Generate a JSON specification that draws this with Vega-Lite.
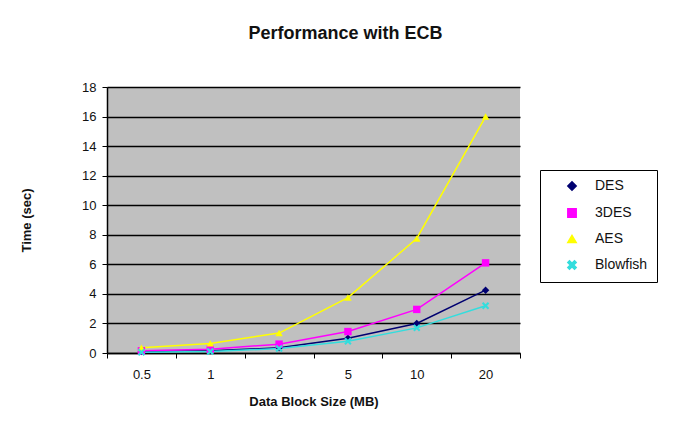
{
  "$schema": "https://vega.github.io/schema/vega-lite/v6.json",
  "autosize": {"type": "none"},
  "width": 413,
  "height": 266,
  "padding": {"left": 107, "top": 87, "right": 155, "bottom": 81},
  "background": "white",
  "title": {
    "text": "Performance with ECB",
    "font": "Liberation Sans",
    "fontSize": 18,
    "fontWeight": "bold",
    "color": "#111111",
    "anchor": "middle",
    "dx": 32,
    "offset": 38
  },
  "config": {
    "view": {"fill": "#c0c0c0", "stroke": null},
    "font": "Liberation Sans"
  },
  "data": {
    "values": [
      {"size": "0.5", "alg": "DES", "time": 0.1},
      {"size": "1", "alg": "DES", "time": 0.15},
      {"size": "2", "alg": "DES", "time": 0.35},
      {"size": "5", "alg": "DES", "time": 1.0},
      {"size": "10", "alg": "DES", "time": 2.0},
      {"size": "20", "alg": "DES", "time": 4.25},
      {"size": "0.5", "alg": "3DES", "time": 0.15},
      {"size": "1", "alg": "3DES", "time": 0.25},
      {"size": "2", "alg": "3DES", "time": 0.6},
      {"size": "5", "alg": "3DES", "time": 1.45},
      {"size": "10", "alg": "3DES", "time": 2.95},
      {"size": "20", "alg": "3DES", "time": 6.1},
      {"size": "0.5", "alg": "AES", "time": 0.35},
      {"size": "1", "alg": "AES", "time": 0.65},
      {"size": "2", "alg": "AES", "time": 1.35},
      {"size": "5", "alg": "AES", "time": 3.75},
      {"size": "10", "alg": "AES", "time": 7.75},
      {"size": "20", "alg": "AES", "time": 16.0},
      {"size": "0.5", "alg": "Blowfish", "time": 0.05},
      {"size": "1", "alg": "Blowfish", "time": 0.1},
      {"size": "2", "alg": "Blowfish", "time": 0.3},
      {"size": "5", "alg": "Blowfish", "time": 0.8},
      {"size": "10", "alg": "Blowfish", "time": 1.7},
      {"size": "20", "alg": "Blowfish", "time": 3.2}
    ]
  },
  "encoding": {
    "x": {
      "field": "size",
      "type": "ordinal",
      "sort": ["0.5", "1", "2", "5", "10", "20"],
      "bandPosition": 0.5,
      "scale": {"type": "band", "paddingInner": 0, "paddingOuter": 0},
      "axis": {
        "title": "Data Block Size (MB)",
        "titleFont": "Liberation Sans",
        "titleFontSize": 13,
        "titleFontWeight": "bold",
        "titleColor": "#111111",
        "titlePadding": 14,
        "labelAngle": 0,
        "labelFontSize": 13,
        "labelColor": "#111111",
        "labelPadding": 10,
        "tickBand": "extent",
        "tickColor": "black",
        "tickSize": 5,
        "domainColor": "black",
        "domainWidth": 1.5,
        "grid": false
      }
    },
    "y": {
      "field": "time",
      "type": "quantitative",
      "scale": {"domain": [0, 18], "nice": false},
      "axis": {
        "title": "Time (sec)",
        "titleFont": "Liberation Sans",
        "titleFontSize": 13,
        "titleFontWeight": "bold",
        "titleColor": "#111111",
        "titlePadding": 48,
        "values": [0, 2, 4, 6, 8, 10, 12, 14, 16, 18],
        "labelFontSize": 13,
        "labelColor": "#111111",
        "labelPadding": 6,
        "tickColor": "black",
        "tickSize": 5,
        "domainColor": "black",
        "domainWidth": 1.5,
        "grid": true,
        "gridColor": "black",
        "gridWidth": 1.5,
        "gridOpacity": 1
      }
    },
    "color": {
      "field": "alg",
      "type": "nominal",
      "scale": {
        "domain": ["DES", "3DES", "AES", "Blowfish"],
        "range": ["#000070", "#ff00ff", "#ffff00", "#33dddd"]
      },
      "legend": {
        "title": null,
        "orient": "none",
        "legendX": 433,
        "legendY": 83,
        "strokeColor": "black",
        "fillColor": "white",
        "padding": 9,
        "labelFontSize": 14,
        "labelColor": "#111111",
        "rowPadding": 11,
        "symbolSize": 70,
        "symbolOffset": 16,
        "labelOffset": 16
      }
    }
  },
  "layer": [
    {
      "mark": {"type": "line", "strokeWidth": 1.5},
      "encoding": {"detail": {"field": "alg"}}
    },
    {
      "mark": {"type": "point", "filled": true, "size": 55, "opacity": 1},
      "encoding": {
        "shape": {
          "field": "alg",
          "type": "nominal",
          "scale": {
            "domain": ["DES", "3DES", "AES", "Blowfish"],
            "range": ["diamond", "square", "triangle-up", "M-1,-0.6L-0.6,-1L0,-0.4L0.6,-1L1,-0.6L0.4,0L1,0.6L0.6,1L0,0.4L-0.6,1L-1,0.6L-0.4,0Z"]
          },
          "legend": {
            "title": null,
            "orient": "none",
            "legendX": 433,
            "legendY": 83
          }
        }
      }
    }
  ]
}
